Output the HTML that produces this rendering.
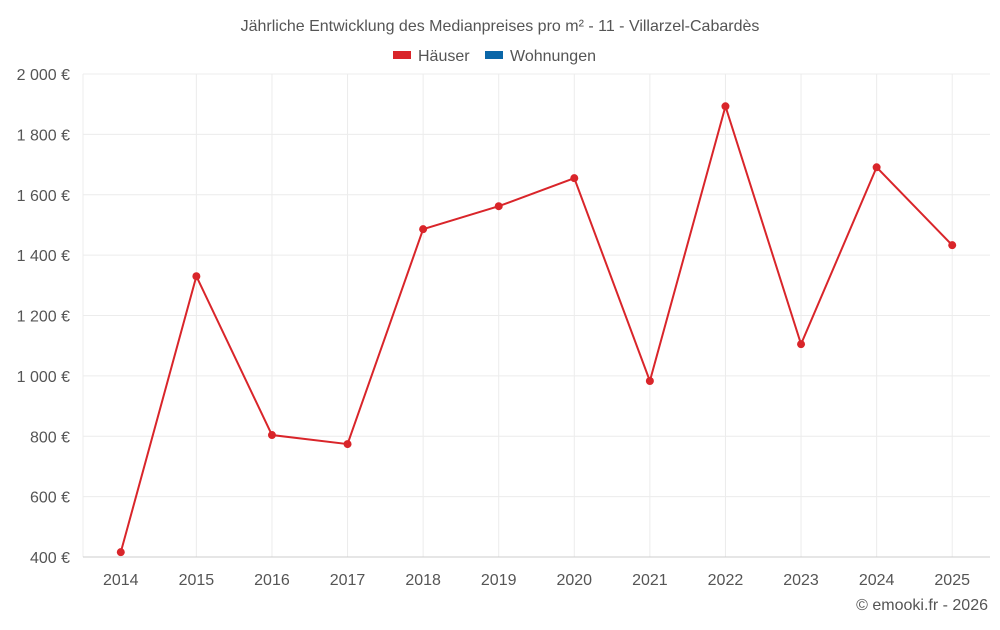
<!DOCTYPE html>
<html><head><meta charset="utf-8"><style>
body{margin:0;background:#fff;font-family:"Liberation Sans",sans-serif;}
svg text{font-family:"Liberation Sans",sans-serif;fill:#555;}
</style></head><body>
<svg id="c" width="1000" height="625">
<text x="500" y="31" text-anchor="middle" font-size="16">Jährliche Entwicklung des Medianpreises pro m² - 11 - Villarzel-Cabardès</text>
<g>
<rect x="393" y="51" width="18" height="8" fill="#d9252a"/>
<text x="418" y="61" font-size="16">Häuser</text>
<rect x="485" y="51" width="18" height="8" fill="#0a66a8"/>
<text x="510" y="61" font-size="16">Wohnungen</text>
</g>
<g id="grid"></g><g id="axes"></g><g id="series"></g>
<text x="988" y="610" text-anchor="end" font-size="16">© emooki.fr - 2026</text>
</svg>
<script>
const categories=["2014","2015","2016","2017","2018","2019","2020","2021","2022","2023","2024","2025"];
const haeuser=[416,1330,804,774,1486,1562,1655,983,1893,1105,1691,1433];
const yTicks=[400,600,800,1000,1200,1400,1600,1800,2000];
const yTickLabels=["400 €","600 €","800 €","1 000 €","1 200 €","1 400 €","1 600 €","1 800 €","2 000 €"];
const L=83,R=990,T=74,B=557,yMin=400,yMax=2000;
const bw=(R-L)/categories.length;
const x=i=>L+bw*(i+0.5);
const y=v=>B-(v-yMin)/(yMax-yMin)*(B-T);
const NS="http://www.w3.org/2000/svg";
function mk(p,t,a){const e=document.createElementNS(NS,t);for(const k in a)e.setAttribute(k,a[k]);document.getElementById(p).appendChild(e);return e;}
yTicks.forEach((v,i)=>{
 const g=mk("grid","line",{x1:L,x2:R,y1:y(v),y2:y(v),stroke:"#ececec"});
 
 
 const t=mk("axes","text",{x:70,y:y(v)+6,"text-anchor":"end","font-size":16});
 t.textContent=yTickLabels[i];
 
 
});
const vl=mk("grid","line",{x1:L,x2:L,y1:T,y2:B,stroke:"#ececec"});


categories.forEach((c,i)=>{
 if(i>0){
  const g=mk("grid","line",{x1:x(i),x2:x(i),y1:T,y2:B,stroke:"#ececec"});
  
  
 }
 const t=mk("axes","text",{x:x(i),y:585,"text-anchor":"middle","font-size":16});
 t.textContent=c;
 
 
});
const ax=mk("axes","line",{x1:L,x2:R,y1:B,y2:B,stroke:"#ccc"});


const pl=mk("series","polyline",{points:haeuser.map((v,i)=>x(i)+","+y(v)).join(" "),fill:"none",stroke:"#d9252a","stroke-width":2});


haeuser.forEach((v,i)=>{
 const c=mk("series","circle",{cx:x(i),cy:y(v),r:4,fill:"#d9252a"});
 
 
});
</script>
</body></html>
